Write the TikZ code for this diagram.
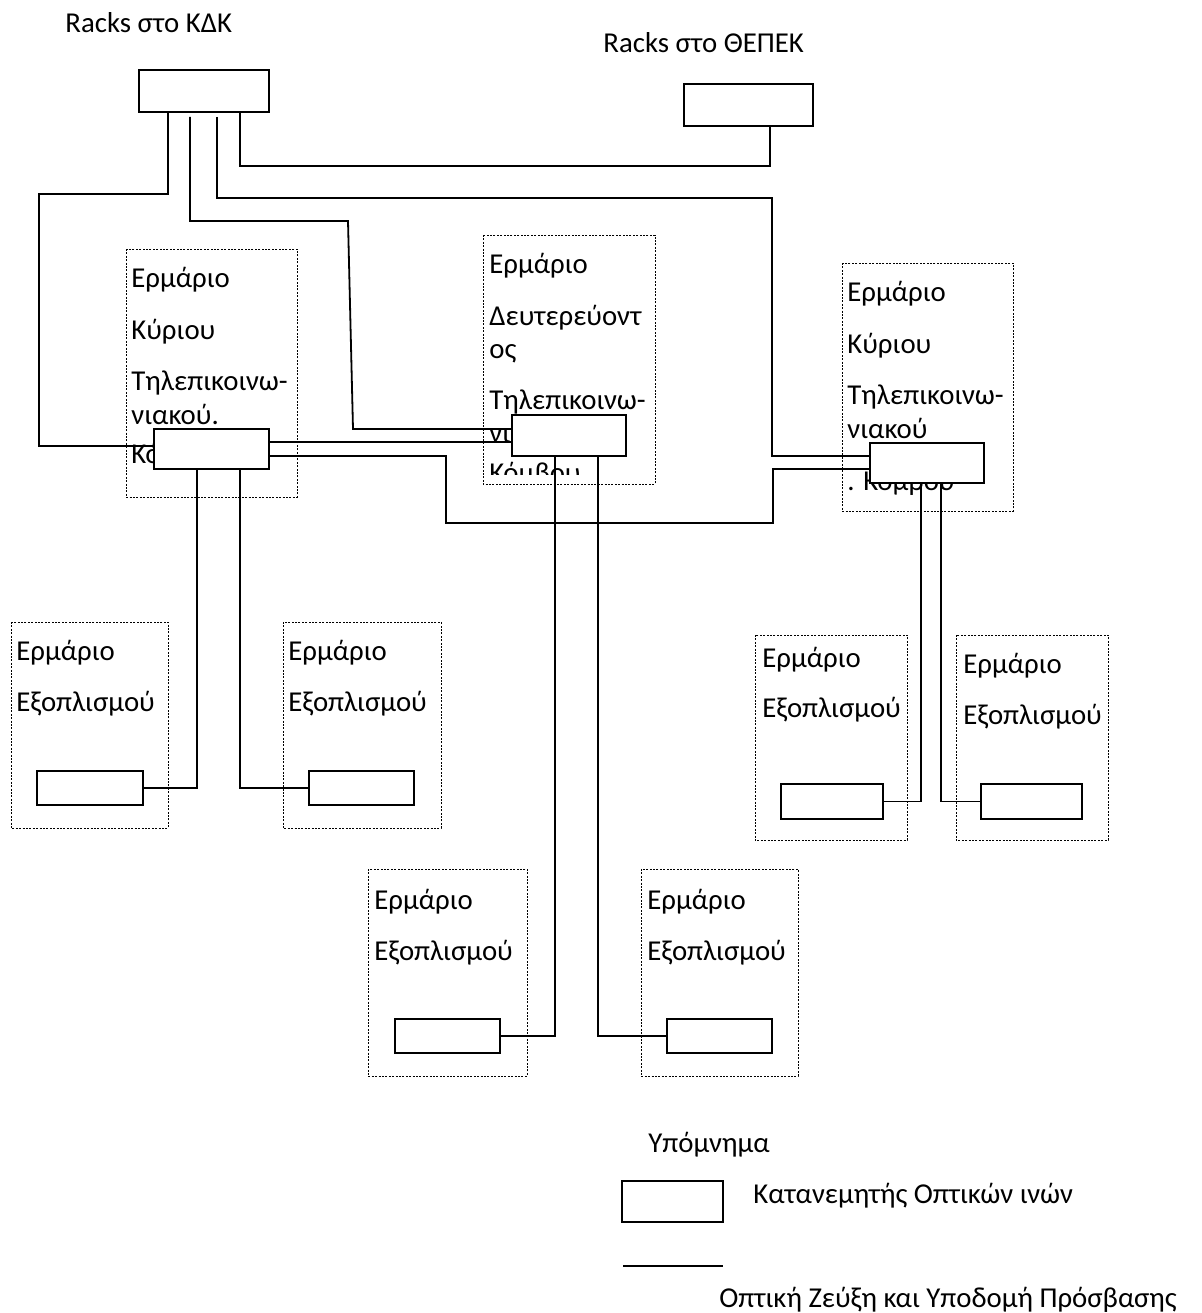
\documentclass[tikz,border=0pt]{standalone}
\usepackage{fontspec}
\setmainfont{Carlito}
\usetikzlibrary{backgrounds}
\begin{document}
\begin{tikzpicture}[
		x=0.5pt, y=-0.5pt,
		font=\fontsize{14.4pt}{17pt}\selectfont,
		lbl/.style={anchor=base west, inner sep=0pt},
		cab/.style={line width=0.5pt, dash pattern=on 1pt off 0.7pt},
		fibre/.style={line width=0.9pt},
		odf/.style 2 args={draw, fill=white, line width=0.9pt, inner sep=0pt,
				minimum width=#1, minimum height=#2}
	]
	\useasboundingbox (0,0) rectangle (1202,1313);

	% distributors
	\node[odf={65pt}{21pt}] (kdk) at (204,91) {};
	\node[odf={64.5pt}{21pt}] (thepek) at (748.5,105) {};
	\node[odf={57.5pt}{20pt}] (ml) at (211.5,449) {};
	\node[odf={57pt}{20.5pt}] (sb) at (569,435.5) {};
	\node[odf={57pt}{20pt}] (mr) at (927,463) {};
	\node[odf={53pt}{17pt}] (eq1) at (90,788) {};
	\node[odf={52.5pt}{17pt}] (eq2) at (361.5,788) {};
	\node[odf={51pt}{17.5pt}] (eq3) at (832,801.5) {};
	\node[odf={50.5pt}{17.5pt}] (eq4) at (1031.5,801.5) {};
	\node[odf={52.5pt}{17pt}] (eq5) at (447.5,1036) {};
	\node[odf={52.5pt}{17pt}] (eq6) at (719.5,1036) {};

	\begin{scope}[on background layer]
		% racks
		\node[lbl] (kdktxt) at (65,32) {Racks στο ΚΔΚ};
		\node[lbl] (thepektxt) at (603,52) {Racks στο ΘΕΠΕΚ};

		% cabinets
		\draw[cab] (126,249) rectangle (297,497);
		\draw[cab] (483,235) rectangle (655,484);
		\draw[cab] (842,263) rectangle (1013,511);
		\draw[cab] (11,622) rectangle (168,828);
		\draw[cab] (283,622) rectangle (441,828);
		\draw[cab] (755,635) rectangle (907,840);
		\draw[cab] (956,635) rectangle (1108,840);
		\draw[cab] (368,869) rectangle (527,1076);
		\draw[cab] (641,869) rectangle (798,1076);

		\foreach \y/\t in {287/Ερμάριο, 339/Κύριου, 390/Τηλεπικοινω-, 424/νιακού., 463/Κόμβου}
			\node[lbl] (ml\y) at (131,\y) {\t};
		\foreach \y/\t in {273/Ερμάριο, 325/Δευτερεύοντ, 358/ος, 409/Τηλεπικοινω-, 442/νιακού}
			\node[lbl] (sb\y) at (489,\y) {\t};
		\begin{scope}
			\clip (483,235) rectangle (655,474);
			\node[lbl] (sb482) at (489,482) {Κόμβου};
		\end{scope}
		\foreach \y/\t in {301/Ερμάριο, 353/Κύριου, 404/Τηλεπικοινω-, 438/νιακού, 490/. Κόμβου}
			\node[lbl] (mr\y) at (847,\y) {\t};
		\foreach \n/\x/\ya/\yb in {1/16/660/711, 2/288/660/711, 3/762/667/717,
				4/963/673/724, 5/374/909/960, 6/647/909/960}{
			\node[lbl] (eqa\n) at (\x,\ya) {Ερμάριο};
			\node[lbl] (eqb\n) at (\x,\yb) {Εξοπλισμού};
		}

		% optical links
		\draw[fibre] (kdk.south -| 168,0) |- (39,194) |- (ml.west |- 0,446);
		\draw[fibre, shorten <=2pt] (kdk.south -| 190,0) |- (348,221) -- (353,429) -- (sb.west |- 0,429);
		\draw[fibre, shorten <=2pt] (kdk.south -| 217,0) |- (772,198) |- (mr.west |- 0,456);
		\draw[fibre] (kdk.south -| 240,0) |- (770,166) -- (thepek.south -| 770,0);
		\draw[fibre] (ml.east |- 0,442) -- (sb.west |- 0,442);
		\draw[fibre] (ml.east |- 0,456) -| (446,523) -| (773,469) -- (mr.west |- 0,469);
		\draw[fibre] (ml.south -| 197,0) |- (eq1.east);
		\draw[fibre] (ml.south -| 240,0) |- (eq2.west);
		\draw[fibre] (sb.south -| 555,0) |- (eq5.east);
		\draw[fibre] (sb.south -| 598,0) |- (eq6.west);
		\draw[fibre] (mr.south -| 921,0) |- (eq3.east);
		\draw[fibre] (mr.south -| 941,0) |- (eq4.west);
	\end{scope}

	% legend
	\node[lbl] (legtxt) at (648,1152) {Υπόμνημα};
	\node[odf={50.5pt}{20.5pt}] (legbox) at (672.5,1201.5) {};
	\node[lbl] (legodf) at (753,1203) {Κατανεμητής Οπτικών ινών};
	\coordinate (lega) at (623,1266);
	\coordinate (legb) at (723,1266);
	\draw[fibre] (lega) -- (legb);
	\node[lbl] (leglink) at (719,1307) {Οπτική Ζεύξη και Υποδομή Πρόσβασης};
\end{tikzpicture}
\end{document}
